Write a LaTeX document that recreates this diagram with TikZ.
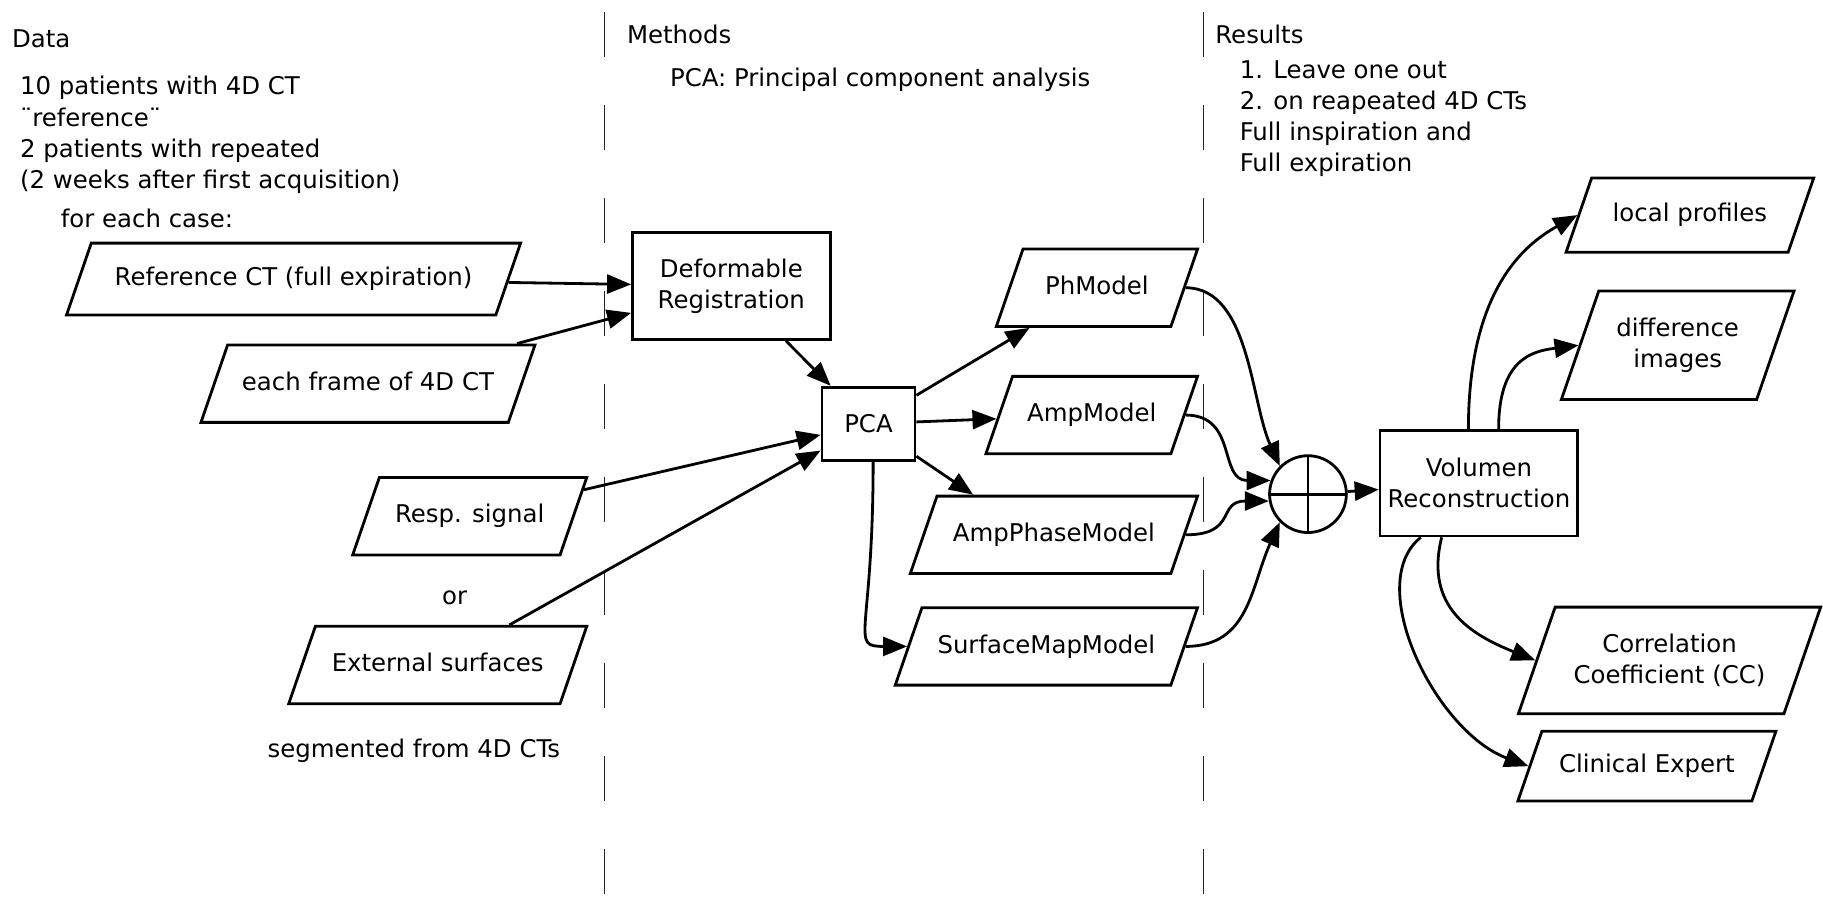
\documentclass[tikz,border=0pt]{standalone}
\usepackage{fontspec}
\setmainfont{DejaVu Sans}
\usetikzlibrary{arrows.meta,calc,shapes.geometric}

\tikzset{
  para/.style={draw,line width=1.4pt,trapezium,trapezium left angle=71,
    trapezium right angle=109,trapezium stretches body,align=center,
    inner xsep=2pt,inner ysep=13.4pt},
  oneline/.style={text height=9.3pt,text depth=2.6pt},
  box/.style={draw,line width=1.4pt,rectangle,align=center,inner sep=2pt},
  sumnode/.style={draw,line width=1.4pt,circle,minimum size=38.4pt,inner sep=0pt,
    path picture={\draw[line width=1.4pt]
      (path picture bounding box.north) -- (path picture bounding box.south)
      (path picture bounding box.west) -- (path picture bounding box.east);}},
  arr/.style={->,line width=1.4pt},
  sep/.style={line width=0.8pt,black!85,dash pattern=on 22.7pt off 23.8pt},
  lbl/.style={anchor=west,align=left,inner sep=0pt}
}

\begin{document}
\begin{tikzpicture}[x=0.5813pt,y=-0.5813pt,>={Triangle[length=12pt,width=9.5pt]},
  font=\fontsize{12.2}{15.6}\selectfont]
  \useasboundingbox (0,0) rectangle (1568,779);
  % column separators
  \draw[sep] (520,10) -- (520,779);
  \draw[sep] (1035,10) -- (1035,779);
  % headings and notes
  \node[lbl] (hdata) at (10,33) {Data};
  \node[lbl] (ndata) at (17,116) {10 patients with 4D CT\\¨reference¨\\2 patients with repeated\\(2 weeks after first acquisition)};
  \node[lbl] (ncase) at (52,188) {for each case:};
  \node[lbl] (hmeth) at (539,30) {Methods};
  \node[lbl] (npca) at (576,69) {PCA: Principal component analysis};
  \node[lbl] (hres) at (1045,30) {Results};
  \node[lbl] (nres) at (1066,102) {1. Leave one out\\2. on reapeated 4D CTs\\Full inspiration and\\Full expiration};
  \node[inner sep=0pt] (nor) at (391,514) {or};
  \node[inner sep=0pt] (nseg) at (356,646) {segmented from 4D CTs};
  % data
  \node[para,oneline,minimum width=227pt,inner ysep=12pt] (ref) at (252.5,240) {Reference CT (full expiration)};
  \node[para,oneline,minimum width=167pt] (frame) at (316.5,330) {each frame of 4D CT};
  \node[para,oneline,minimum width=117pt] (resp) at (404,444) {Resp. signal};
  \node[para,oneline,minimum width=149pt] (ext) at (376.5,572) {External surfaces};
  % methods
  \node[box,minimum width=98.8pt,minimum height=53.5pt] (defreg) at (629,246) {Deformable\\Registration};
  \node[box,minimum width=46.5pt,minimum height=36.6pt] (pca) at (747,364.5) {PCA};
  \node[para,oneline,minimum width=100.6pt] (ph) at (943.5,247.5) {PhModel};
  \node[para,oneline,minimum width=105.8pt] (amp) at (939,357) {AmpModel};
  \node[para,oneline,minimum width=143.6pt] (ampph) at (906.5,460) {AmpPhaseModel};
  \node[para,oneline,minimum width=151.1pt] (surf) at (900,556) {SurfaceMapModel};
  % results
  \node[sumnode] (sum) at (1125,425) {};
  \node[box,minimum width=98.8pt,minimum height=52.9pt] (vol) at (1272,415.5) {Volumen\\Reconstruction};
  \node[para,oneline,minimum width=123.8pt,inner ysep=12.6pt] (prof) at (1453.5,185) {local profiles};
  \node[para,minimum width=116.3pt] (diff) at (1443,297) {difference\\images};
  \node[para,minimum width=151.1pt] (cc) at (1436,568) {Correlation\\Coefficient (CC)};
  \node[para,oneline,minimum width=129pt,inner ysep=11.5pt] (clin) at (1416.5,659) {Clinical Expert};
  % connectors
  \draw[arr] (ref) -- (defreg);
  \draw[arr] (frame) -- (defreg);
  \draw[arr] (defreg) -- (pca);
  \draw[arr] (resp) -- (pca);
  \draw[arr] (ext) -- (pca);
  \draw[arr] (pca) -- (ph);
  \draw[arr] (pca) -- (amp);
  \draw[arr] (pca) -- ($(ampph.top left corner)+(32,0)$);
  \draw[arr] ($(pca.south)+(4,0)$) .. controls +(0,150) and +(-50,0) .. (surf.west);
  \draw[arr] (ph.east) .. controls +(55,0) and +(-25,-55) .. (sum.north west);
  \draw[arr] (amp.east) .. controls +(45,0) and +(-45,0) .. (sum.160);
  \draw[arr] (ampph.east) .. controls +(45,0) and +(-45,0) .. (sum.190);
  \draw[arr] (surf.east) .. controls +(55,0) and +(-25,55) .. (sum.south west);
  \draw[arr] (sum) -- (vol);
  \draw[arr] ($(vol.north)+(-9,0)$) .. controls +(0,-120) and +(-45,25) .. (prof.west);
  \draw[arr] ($(vol.north)+(17,0)$) .. controls +(0,-60) and +(-40,5) .. (diff.west);
  \draw[arr] ($(vol.south)+(-32,0)$) .. controls +(-15,60) and +(-55,-22) .. (cc.west);
  \draw[arr] ($(vol.south)+(-50,0)$) .. controls +(-50,40) and +(-80,-30) .. (clin.west);
\end{tikzpicture}
\end{document}
